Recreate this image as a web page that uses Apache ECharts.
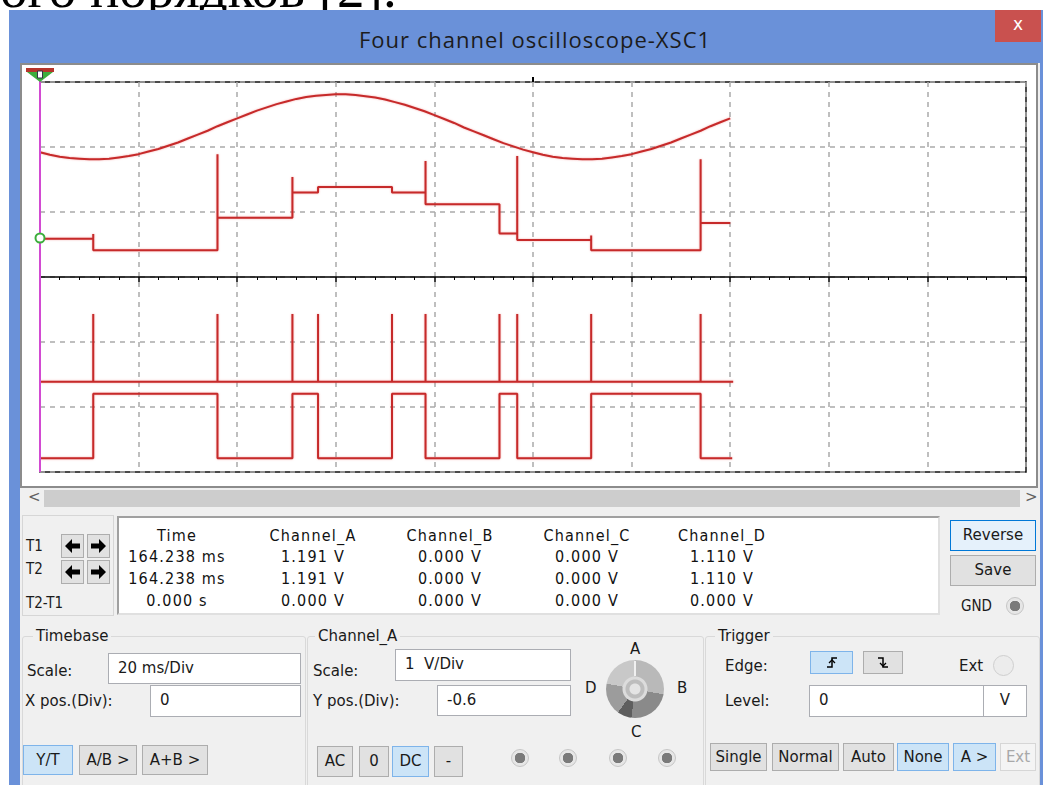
<!DOCTYPE html>
<html><head><meta charset="utf-8">
<script src="https://cdn.jsdelivr.net/npm/echarts@6.0.0/dist/echarts.min.js"></script>
<style>
html,body{margin:0;padding:0}
body{width:1043px;height:785px;overflow:hidden;background:#fff;position:relative;font-family:'DejaVu Sans',sans-serif;color:#1a1a1a}
.a{position:absolute;white-space:nowrap}
.lbl{position:absolute;white-space:nowrap;font-size:15px;line-height:18px}
.tb{position:absolute;box-sizing:border-box;background:#fff;border:1px solid #abadb3;font-size:15px;line-height:28px;padding-left:9px}
.btn{position:absolute;box-sizing:border-box;background:#e1e1e1;border:1px solid #adadad;text-align:center;font-size:15px}
.blue{background:#cce4f7;border-color:#3c7fb1}
.tv{position:absolute;width:160px;text-align:center;font-family:'DejaVu Sans Condensed','DejaVu Sans',sans-serif;font-size:16px;letter-spacing:1.2px;line-height:18px;color:#111}
.frame{position:absolute;box-sizing:border-box;border:1px solid #d9d9d9;border-radius:3px}
.radio{position:absolute;width:18px;height:18px;border-radius:50%;box-sizing:border-box;border:1px solid #c6c6c6;background:radial-gradient(circle,#7a7a7a 0 5px,#e6e6e6 5.5px)}
.arr{position:absolute;box-sizing:border-box;background:#e1e1e1;border:1px solid #adadad}
</style></head>
<body>
<div class="a" style="left:0;top:-39px;font-family:'Liberation Serif',serif;font-size:55px;line-height:55px;color:#000">ого порядков [2].</div>

<!-- window -->
<div class="a" style="left:9px;top:10px;width:1040px;height:780px;background:#6a91d9"></div>
<div class="a" style="left:0;top:25px;width:1070px;text-align:center;font-family:'Open Sans',sans-serif;font-size:22px;letter-spacing:1px;line-height:28px;color:#1c1c1c">Four channel oscilloscope-XSC1</div>
<div class="a" style="left:995px;top:10px;width:46px;height:32px;background:#c9514f;color:#fff;text-align:center;font-size:17px;line-height:28px">x</div>
<div class="a" style="left:20px;top:63px;width:1020px;height:730px;background:#f0f0f0"></div>

<!-- screen -->
<div class="a" style="left:20px;top:63px;width:1018px;height:425px;box-sizing:border-box;border:2px solid #8c8c8c;background:#fff"></div>
<div id="chart" class="a" style="left:22px;top:65px;width:1014px;height:421px"></div>

<!-- scrollbar -->
<div class="a" style="left:22px;top:489px;width:1016px;height:19px;background:#f0f0f0"></div>
<div class="a" style="left:44px;top:490px;width:976px;height:17px;background:#cdcdcd"></div>
<div class="a" style="left:28px;top:488px;font-size:15px;color:#606060">&lt;</div>
<div class="a" style="left:1025px;top:488px;font-size:15px;color:#606060">&gt;</div>

<!-- cursor panel -->
<div class="a" style="left:22px;top:515px;width:92px;height:101px;box-sizing:border-box;border:1px solid #d6d6d6"></div>
<div class="lbl" style="left:26px;top:537px;font-family:'DejaVu Sans Condensed';">T1</div>
<div class="lbl" style="left:26px;top:560px;font-family:'DejaVu Sans Condensed';">T2</div>
<div class="lbl" style="left:26px;top:594px;font-family:'DejaVu Sans Condensed';">T2-T1</div>
<div class="arr" style="left:61px;top:534px;width:23px;height:24px"><svg width="21" height="22"><polygon points="3,11 10,4 10,8.5 18,8.5 18,13.5 10,13.5 10,18" fill="#000"/></svg></div>
<div class="arr" style="left:87px;top:534px;width:23px;height:24px"><svg width="21" height="22"><polygon points="18,11 11,4 11,8.5 3,8.5 3,13.5 11,13.5 11,18" fill="#000"/></svg></div>
<div class="arr" style="left:61px;top:560px;width:23px;height:24px"><svg width="21" height="22"><polygon points="3,11 10,4 10,8.5 18,8.5 18,13.5 10,13.5 10,18" fill="#000"/></svg></div>
<div class="arr" style="left:87px;top:560px;width:23px;height:24px"><svg width="21" height="22"><polygon points="18,11 11,4 11,8.5 3,8.5 3,13.5 11,13.5 11,18" fill="#000"/></svg></div>

<div class="a" style="left:117px;top:516px;width:823px;height:99px;box-sizing:border-box;background:#fff;border:2px solid #a0a0a0;border-right-color:#e0e0e0;border-bottom-color:#e0e0e0"></div>
<div id="table"></div>

<div class="btn" style="left:950px;top:520px;width:86px;height:31px;line-height:29px;background:#e5f1fb;border-color:#0078d7">Reverse</div>
<div class="btn" style="left:950px;top:555px;width:86px;height:31px;line-height:29px">Save</div>
<div class="lbl" style="left:961px;top:597px;font-family:'DejaVu Sans Condensed'">GND</div>
<div class="radio" style="left:1006px;top:597px"></div>

<!-- groups -->
<div class="frame" style="left:22px;top:636px;width:284px;height:160px"></div>
<div class="frame" style="left:307px;top:636px;width:397px;height:160px"></div>
<div class="frame" style="left:705px;top:636px;width:335px;height:160px"></div>
<div class="lbl" style="left:33px;top:627px;background:#f0f0f0;padding:0 3px">Timebase</div>
<div class="lbl" style="left:315px;top:627px;background:#f0f0f0;padding:0 3px">Channel_A</div>
<div class="lbl" style="left:715px;top:627px;background:#f0f0f0;padding:0 3px">Trigger</div>

<div class="lbl" style="left:27px;top:662px">Scale:</div>
<div class="tb" style="left:108px;top:653px;width:193px;height:31px">20 ms/Div</div>
<div class="lbl" style="left:25px;top:692px">X pos.(Div):</div>
<div class="tb" style="left:150px;top:685px;width:151px;height:32px">0</div>
<div class="btn blue" style="left:23px;top:745px;width:50px;height:30px;line-height:28px;border-color:#7eb4ea">Y/T</div>
<div class="btn" style="left:79px;top:745px;width:58px;height:30px;line-height:28px">A/B &gt;</div>
<div class="btn" style="left:142px;top:745px;width:66px;height:30px;line-height:28px">A+B &gt;</div>

<div class="lbl" style="left:313px;top:662px">Scale:</div>
<div class="tb" style="left:395px;top:649px;width:176px;height:32px">1&nbsp; V/Div</div>
<div class="lbl" style="left:313px;top:692px">Y pos.(Div):</div>
<div class="tb" style="left:437px;top:685px;width:134px;height:31px">-0.6</div>
<div class="btn" style="left:317px;top:746px;width:36px;height:31px;line-height:29px">AC</div>
<div class="btn" style="left:359px;top:746px;width:30px;height:31px;line-height:29px">0</div>
<div class="btn blue" style="left:392px;top:746px;width:37px;height:31px;line-height:29px;border-color:#7eb4ea">DC</div>
<div class="btn" style="left:434px;top:746px;width:29px;height:31px;line-height:29px">-</div>
<div class="radio" style="left:511px;top:749px"></div>
<div class="radio" style="left:559px;top:749px"></div>
<div class="radio" style="left:609px;top:749px"></div>
<div class="radio" style="left:658px;top:749px"></div>

<!-- knob -->
<div class="a" style="left:606px;top:660px;width:58px;height:58px;border-radius:50%;background:radial-gradient(circle at 50% 50%,#e4e4e4 0 5px,#bdbdbd 6px 9px,#dcdcdc 10px 12px,transparent 13px),conic-gradient(#b9b9b9 0 28%,#8a8a8a 28% 52%,#5e5e5e 52% 60%,#9c9c9c 60% 78%,#c8c8c8 78% 100%)"></div>
<div class="a" style="left:634px;top:661px;width:2px;height:15px;background:#f0f0f0"></div>
<div class="lbl" style="left:630px;top:640px">A</div>
<div class="lbl" style="left:677px;top:679px">B</div>
<div class="lbl" style="left:631px;top:723px">C</div>
<div class="lbl" style="left:585px;top:679px">D</div>

<div class="lbl" style="left:725px;top:657px">Edge:</div>
<div class="btn blue" style="left:810px;top:651px;width:43px;height:23px;border-color:#7eb4ea"><svg width="16" height="16" style="margin-top:3px"><polyline points="3,12 8,12 8,3 13,3" fill="none" stroke="#000" stroke-width="1.5"/><polyline points="5,8 8,5 11,8" fill="none" stroke="#000" stroke-width="1.3"/></svg></div>
<div class="btn" style="left:863px;top:651px;width:40px;height:23px"><svg width="16" height="16" style="margin-top:3px"><polyline points="3,3 8,3 8,12 13,12" fill="none" stroke="#000" stroke-width="1.5"/><polyline points="5,8 8,11 11,8" fill="none" stroke="#000" stroke-width="1.3"/></svg></div>
<div class="lbl" style="left:959px;top:657px">Ext</div>
<div class="a" style="left:993px;top:655px;width:21px;height:21px;border-radius:50%;box-sizing:border-box;border:1px solid #cfcfcf;background:#ececec"></div>
<div class="lbl" style="left:725px;top:692px">Level:</div>
<div class="tb" style="left:809px;top:685px;width:175px;height:32px">0</div>
<div class="tb" style="left:983px;top:685px;width:44px;height:32px;padding:0;text-align:center">V</div>

<div class="btn" style="left:710px;top:743px;width:57px;height:28px;line-height:26px">Single</div>
<div class="btn" style="left:772px;top:743px;width:67px;height:28px;line-height:26px">Normal</div>
<div class="btn" style="left:843px;top:743px;width:51px;height:28px;line-height:26px">Auto</div>
<div class="btn blue" style="left:897px;top:743px;width:52px;height:28px;line-height:26px;border-color:#7eb4ea">None</div>
<div class="btn blue" style="left:953px;top:743px;width:43px;height:28px;line-height:26px;border-color:#7eb4ea">A &gt;</div>
<div class="btn" style="left:1000px;top:743px;width:36px;height:28px;line-height:26px;background:#f4f4f4;border-color:#d6d6d6;color:#a8a8a8">Ext</div>

<script>
// ---- readout table ----
const colHeads = ['Time', 'Channel_A', 'Channel_B', 'Channel_C', 'Channel_D'];
const rowT1 = ['164.238 ms', '1.191 V', '0.000 V', '0.000 V', '1.110 V'];
const rowT2 = ['164.238 ms', '1.191 V', '0.000 V', '0.000 V', '1.110 V'];
const rowDiff = ['0.000 s', '0.000 V', '0.000 V', '0.000 V', '0.000 V'];

// ---- waveform data (time in divisions, 20 ms/div; amplitude in divisions) ----
const chASampleStep = 0.1;
const chA = [1.92,1.88,1.85,1.83,1.82,1.81,1.81,1.82,1.84,1.86,1.89,1.93,1.97,2.02,2.07,2.13,2.19,2.25,
  2.32,2.38,2.44,2.50,2.56,2.61,2.66,2.70,2.74,2.77,2.79,2.80,2.81,2.81,2.80,2.78,2.76,2.73,2.69,2.65,2.60,2.55,2.49,2.43,2.37,
  2.30,2.24,2.18,2.12,2.06,2.01,1.96,1.92,1.88,1.85,1.83,1.82,1.81,1.81,1.82,1.84,1.86,1.89,1.93,1.97,2.02,2.07,2.13,2.19,2.25,2.32,2.38,2.44];
const chB = [[0,0.59],[0.54,0.59],[0.54,0.66],[0.54,0.41],[1.80,0.41],[1.80,1.89],[1.80,0.91],[2.56,0.91],[2.56,1.54],[2.56,1.30],
  [2.82,1.30],[2.82,1.385],[3.57,1.385],[3.57,1.30],[3.91,1.30],[3.91,1.785],[3.91,1.12],[4.66,1.12],[4.66,0.67],
  [4.84,0.67],[4.84,1.86],[4.84,0.57],[5.59,0.57],[5.59,0.64],[5.59,0.41],[6.70,0.41],[6.70,1.81],[6.70,0.83],[7.0,0.83]];
const pulseTimes = [0.54,1.80,2.56,2.82,3.57,3.91,4.66,4.84,5.59,6.70];
const chCBase = -1.61, chCPeak = -0.57, chCEnd = 7.03;
const chDLow = -2.79, chDHigh = -1.795, chDEnd = 7.02;
const chBGround = 0.6;   // channel B marker level
const cursorT = 0;       // cursor position (div)

const chCData = [[0, chCBase]];
pulseTimes.forEach(t => { chCData.push([t, chCBase], [t, chCPeak], [t, chCBase]); });
chCData.push([chCEnd, chCBase]);
const chDData = [[0, chDLow]];
let lvl = chDLow;
pulseTimes.forEach(t => { const nxt = lvl === chDLow ? chDHigh : chDLow; chDData.push([t, lvl], [t, nxt]); lvl = nxt; });
chDData.push([chDEnd, lvl]);

// table
const cols = [177, 313, 450, 587, 722];
const rowsY = [527, 548, 570, 592];
const tbl = document.getElementById('table');
[colHeads, rowT1, rowT2, rowDiff].forEach((row, r) => row.forEach((txt, c) => {
  const d = document.createElement('div'); d.className = 'tv';
  d.style.left = (cols[c] - 80) + 'px'; d.style.top = rowsY[r] + 'px'; d.textContent = txt; tbl.appendChild(d);
}));

const red = '#c62a2a';
const lineBase = { type: 'line', showSymbol: false, silent: true, animation: false,
  lineStyle: { color: red, width: 2, shadowBlur: 2, shadowColor: 'rgba(235,90,90,0.55)' } };

const chart = echarts.init(document.getElementById('chart'));
chart.setOption({
  animation: false,
  grid: { left: 18, top: 17, width: 986, height: 390, show: true, borderColor: '#111', borderWidth: 1.5, backgroundColor: '#fff' },
  xAxis: { type: 'value', min: 0, max: 10, interval: 1,
    axisLine: { show: true, onZero: true, lineStyle: { color: '#000', width: 1.5 } },
    axisTick: { show: true, inside: false, length: 5, lineStyle: { color: '#000', width: 1.5 } },
    minorTick: { show: true, splitNumber: 5, length: 3, lineStyle: { color: '#000', width: 1 } },
    axisLabel: { show: false },
    splitLine: { show: true, lineStyle: { color: '#ababab', width: 1.5, type: [5, 5] } } },
  yAxis: { type: 'value', min: -3, max: 3, interval: 1,
    axisLine: { show: false }, axisTick: { show: false }, axisLabel: { show: false },
    splitLine: { show: true, lineStyle: { color: '#ababab', width: 1.5, type: [5, 5] } } },
  series: [
    Object.assign({}, lineBase, { name: 'A', data: chA.map((v, i) => [i * chASampleStep, v]),
      markLine: { silent: true, symbol: ['none', 'none'], label: { show: false }, animation: false,
        lineStyle: { color: '#d24ad2', width: 2, type: 'solid' }, data: [{ xAxis: cursorT }] },
      markPoint: { silent: true, animation: false, label: { show: false }, data: [
        { coord: [cursorT, chBGround], symbol: 'emptyCircle', symbolSize: 9, itemStyle: { color: '#3cae3c', borderWidth: 1.5 } }
      ] } }),
    Object.assign({}, lineBase, { name: 'B', data: chB }),
    Object.assign({}, lineBase, { name: 'C', data: chCData }),
    Object.assign({}, lineBase, { name: 'D', data: chDData })
  ]
});

// cursor handle above the plot (positioned from the axis scale)
const top0 = chart.convertToPixel({ gridIndex: 0 }, [cursorT, 3]);
const mid = chart.convertToPixel({ gridIndex: 0 }, [5, 3]);
chart.setOption({ graphic: [
  { type: 'line', shape: { x1: top0[0], y1: top0[1] - 10, x2: top0[0], y2: top0[1] }, style: { stroke: '#d24ad2', lineWidth: 2 }, silent: true },
  { type: 'rect', shape: { x: top0[0] - 14, y: top0[1] - 14, width: 28, height: 4 }, style: { fill: '#b5352b' }, silent: true },
  { type: 'polygon', shape: { points: [[top0[0] - 13, top0[1] - 10], [top0[0] + 13, top0[1] - 10], [top0[0], top0[1]]] }, style: { fill: '#3cae3c' }, silent: true },
  { type: 'rect', shape: { x: top0[0] - 2.5, y: top0[1] - 11, width: 5, height: 7 }, style: { fill: '#fff', stroke: '#334', lineWidth: 1 }, silent: true },
  { type: 'line', shape: { x1: mid[0], y1: mid[1] - 5, x2: mid[0], y2: mid[1] }, style: { stroke: '#000', lineWidth: 2 }, silent: true }
] });
</script>
</body></html>
